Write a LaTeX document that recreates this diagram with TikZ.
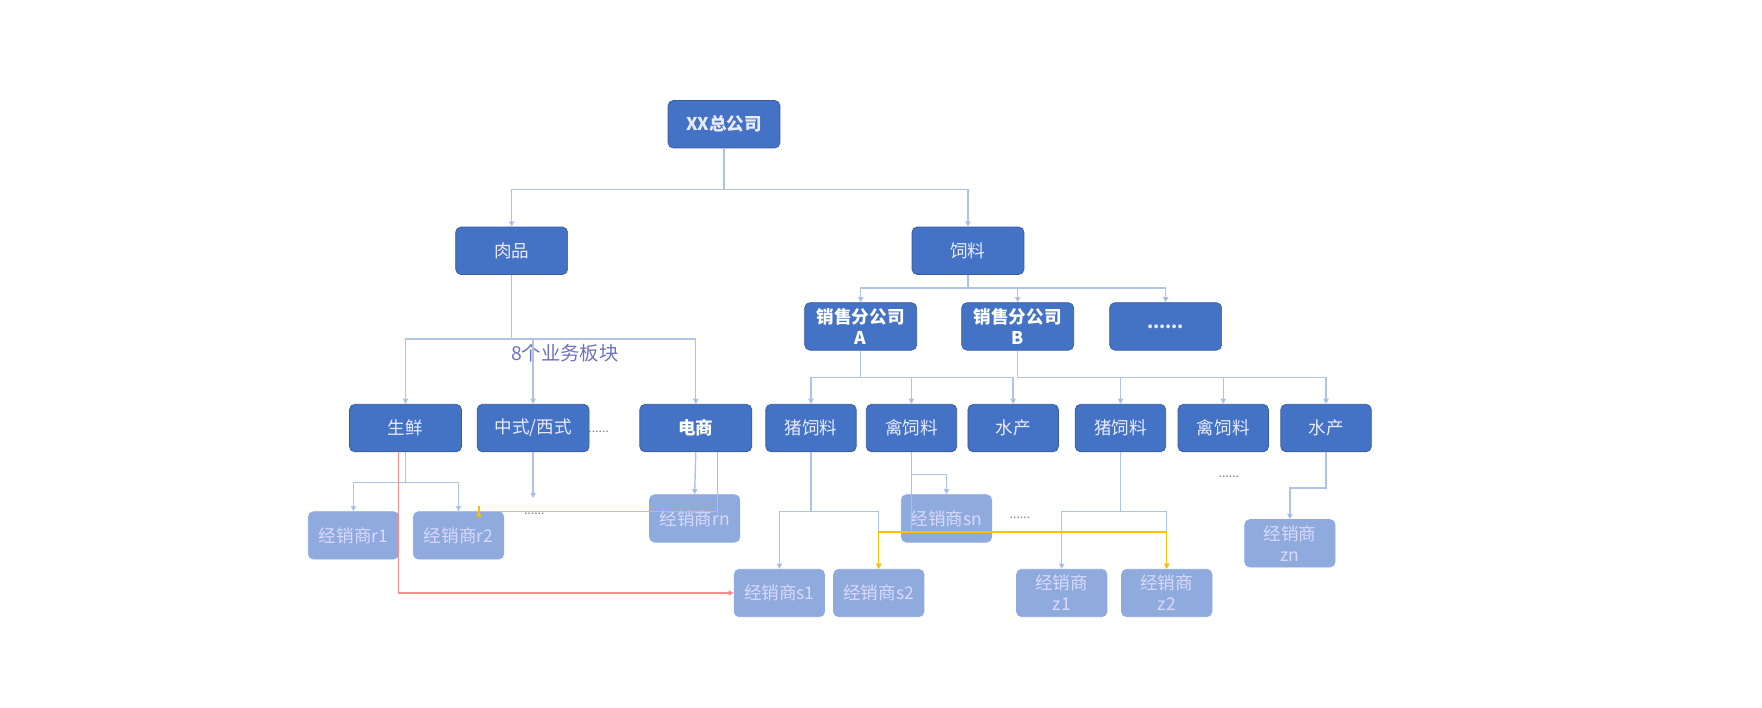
\documentclass[tikz,border=0pt]{standalone}
\usepackage{fontspec}
\setmainfont{Noto Sans CJK SC}
\usetikzlibrary{arrows.meta,positioning}
\definecolor{boxblue}{HTML}{4472C4}
\definecolor{dealblue}{HTML}{8FAADC}
\definecolor{lineblue}{HTML}{AFC3E6}
\definecolor{goldline}{HTML}{FFC000}
\begin{document}
\begin{tikzpicture}[
    x=0.0226cm, y=-0.0226cm,
    font=\fontsize{10}{12}\selectfont,
    >={Triangle[length=3pt,width=3pt]},
    % box styles
    unit/.style={draw=boxblue!80!black, fill=boxblue, text=white!92!blue, rounded corners=3pt,
        minimum width=2.24cm, minimum height=0.95cm, inner sep=1pt, align=center},
    unit_s/.style={unit, minimum width=1.81cm},
    dealer/.style={draw=boxblue!60, fill=dealblue, text=white!85!blue, rounded corners=3pt,
        minimum width=1.81cm, minimum height=0.95cm, inner sep=1pt, align=center},
    link/.style={lineblue, thick, -{Triangle[length=3pt,width=3pt,fill=boxblue]}},
    plain/.style={lineblue, thick},
    gold/.style={goldline, thick, -{Triangle[length=3pt,width=3pt]}},
    redl/.style={red!45, thick, -{Triangle[length=3pt,width=3pt,fill=red]}},
    dots/.style={text=gray, font=\fontsize{7}{8}\selectfont}
]
\useasboundingbox (0,0) rectangle (1560,626);

% --- top levels
\node[unit, font=\fontsize{10}{12}\selectfont\bfseries] (hq) at (641,110) {XX总公司};
\node[unit] (meat) at (453,222) {肉品};
\node[unit] (feed) at (857,222) {饲料};
\node[unit, font=\fontsize{10}{12}\selectfont\bfseries, text=white] (subA) at (762,289) {销售分公司\\A};
\node[unit, font=\fontsize{10}{12}\selectfont\bfseries, text=white] (subB) at (901,289) {销售分公司\\B};
\node[unit] (subN) at (1032,289) {\textbf{......}};

% --- business lines
\node[unit] (fresh) at (359,379) {生鲜};
\node[unit] (food) at (472,379) {中式/西式};
\node[unit, font=\fontsize{10}{12}\selectfont\bfseries, text=white] (ecom) at (616,379) {电商};
\node[unit_s] (pigA) at (718,379) {猪饲料};
\node[unit_s] (birdA) at (807,379) {禽饲料};
\node[unit_s] (fishA) at (897,379) {水产};
\node[unit_s] (pigB) at (992,379) {猪饲料};
\node[unit_s] (birdB) at (1083,379) {禽饲料};
\node[unit_s] (fishB) at (1174,379) {水产};

% --- dealers
\node[dealer] (r1) at (313,474) {经销商r1};
\node[dealer] (r2) at (406,474) {经销商r2};
\node[dealer] (rn) at (615,459) {经销商rn};
\node[dealer] (sn) at (838,459) {经销商sn};
\node[dealer] (s1) at (690,525) {经销商s1};
\node[dealer] (s2) at (778,525) {经销商s2};
\node[dealer] (z1) at (940,525) {经销商\\z1};
\node[dealer] (z2) at (1033,525) {经销商\\z2};
\node[dealer] (zn) at (1142,481) {经销商\\zn};

% --- dots and label
\node[dots] (dotsA) at (530,382) {......};
\node[dots] (dotsB) at (473,455) {......};
\node[dots] (dotsC) at (903,458) {......};
\node[dots] (dotsD) at (1088,422) {......};
\node[text=gray!60!blue!80, font=\fontsize{11}{13}\selectfont] (tag) at (500,313) {8个业务板块};
\coordinate (foodEnd) at (472,441);

% --- tree connectors
\draw[plain] (hq.south) -- (641,168) -| (meat.north);
\draw[link] (641,168) -| (meat.north);
\draw[link] (641,168) -| (feed.north);
\draw[link] (meat.south) |- (fresh.north |- 0,300) -- (fresh.north);
\draw[link] (meat.south) |- (ecom.north |- 0,300) -- (ecom.north);
\draw[link] (food.north |- 0,300) -- (food.north);
\draw[link] (feed.south) |- (subA.north |- 0,255) -- (subA.north);
\draw[link] (feed.south) |- (subN.north |- 0,255) -- (subN.north);
\draw[link] (subB.north |- 0,255) -- (subB.north);
\draw[link] (subA.south) |- (pigA.north |- 0,334) -- (pigA.north);
\draw[link] (subA.south) |- (fishA.north |- 0,334) -- (fishA.north);
\draw[link] (birdA.north |- 0,334) -- (birdA.north);
\draw[link] (subB.south) |- (pigB.north |- 0,334) -- (pigB.north);
\draw[link] (subB.south) |- (fishB.north |- 0,334) -- (fishB.north);
\draw[link] (birdB.north |- 0,334) -- (birdB.north);

% --- dealer connectors
\draw[link] (fresh.south) |- (r1.north |- 0,427) -- (r1.north);
\draw[link] (fresh.south) |- (r2.north |- 0,427) -- (r2.north);
\draw[link] (food.south) -- (foodEnd);
\draw[link] (ecom.south) -- (rn.north);
\draw[link] (pigA.south) |- (s1.north |- 0,453) -- (s1.north);
\draw[link] (pigA.south) |- (s2.north |- 0,453) -- (s2.north);
\draw[link] (birdA.south) |- (sn.north |- 0,420) -- (sn.north);
\draw[link] (pigB.south) |- (z1.north |- 0,453) -- (z1.north);
\draw[link] (pigB.south) |- (z2.north |- 0,453) -- (z2.north);
\draw[link] (fishB.south) |- (zn.north |- 0,432) -- (zn.north);

% --- cross links
\draw[gold] (ecom.south -| 635,0) |- (r2.north -| 424,0 |- 0,427) -- (r2.north -| 424,0);
\draw[gold] (birdA.south) |- (s2.north |- 0,471) -- (s2.north);
\draw[gold] (birdA.south) |- (z2.north |- 0,471) -- (z2.north);
\draw[redl] (fresh.south -| 353,0) |- (s1.west);
\end{tikzpicture}
\end{document}
